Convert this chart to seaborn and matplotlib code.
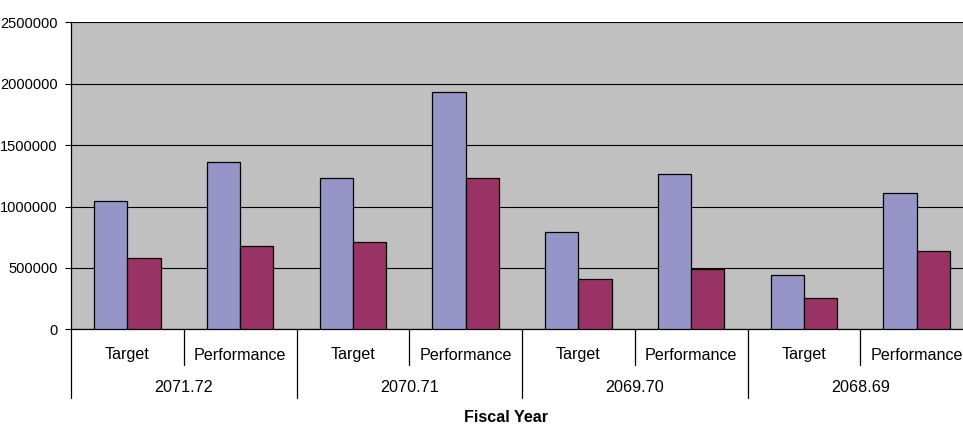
import matplotlib
matplotlib.use("Agg")
import matplotlib.pyplot as plt
import seaborn as sns
import pandas as pd

years = ["2071.72", "2070.71", "2069.70", "2068.69"]
kinds = ["Target", "Performance"]
categories = [f"{y} {k}" for y in years for k in kinds]
series1 = [1042000, 1362000, 1232000, 1932000, 792000, 1262000, 440000, 1112000]
series2 = [580000, 681000, 708000, 1232000, 412000, 491000, 252000, 640000]
series_names = ["Series1", "Series2"]
yticks = [0, 500000, 1000000, 1500000, 2000000, 2500000]

df = pd.DataFrame({
    "category": categories * 2,
    "value": series1 + series2,
    "series": [series_names[0]] * len(categories) + [series_names[1]] * len(categories),
})

sns.set_theme(style="white")
plt.rcParams["font.family"] = ["Liberation Sans", "DejaVu Sans"]

FS = 11.6
W, H = 963, 425
fig = plt.figure(figsize=(W / 100, H / 100), dpi=100)
left_px, right_px, top_px, bot_px = 71, 973, 22.3, 329.3
ax = fig.add_axes([left_px / W, (H - bot_px) / H, (right_px - left_px) / W, (bot_px - top_px) / H])

sns.barplot(data=df, x="category", y="value", hue="series", order=categories,
            hue_order=series_names, palette=["#9595C8", "#993366"], saturation=1,
            width=0.59, gap=0, edgecolor="black", linewidth=0.9, ax=ax, legend=False,
            zorder=3)

ax.set_facecolor("#C0C0C0")
ax.set_xlim(-0.5, 7.5)
ax.set_ylim(0, 2500000)
ax.set_yticks(yticks)
ax.set_yticklabels([str(v) for v in yticks], fontsize=10.5, color="black")
ax.yaxis.grid(True, color="black", linewidth=0.8, zorder=0)
ax.set_axisbelow(True)
ax.tick_params(axis="y", which="major", left=True, length=4.5, width=0.8, color="black", pad=5)
ax.set_xticks([])
ax.set_xlabel("")
ax.set_ylabel("")
for s in ["top", "right"]:
    ax.spines[s].set_visible(False)
for s in ["left", "bottom"]:
    ax.spines[s].set_color("black")
    ax.spines[s].set_linewidth(0.9)

axh = bot_px - top_px
def frac(py):
    return (bot_px - py) / axh

tr = ax.get_xaxis_transform()
for i in range(len(categories) + 1):
    x = i - 0.5
    y2 = frac(398) if i % 2 == 0 else frac(365)
    ax.plot([x, x], [0, y2], transform=tr, color="black", linewidth=0.9, clip_on=False)

for i, cat in enumerate(categories):
    ax.text(i, frac(355), kinds[i % 2], transform=tr, ha="center", va="center",
            fontsize=FS, color="black")
for j, y in enumerate(years):
    ax.text(2 * j + 0.5, frac(388), y, transform=tr, ha="center", va="center",
            fontsize=FS, color="black")

fig.text(506 / W, (H - 418) / H, "Fiscal Year", ha="center", va="center",
         fontsize=FS, fontweight="bold", color="black")

fig.savefig("out.png", dpi=100, facecolor="white")
